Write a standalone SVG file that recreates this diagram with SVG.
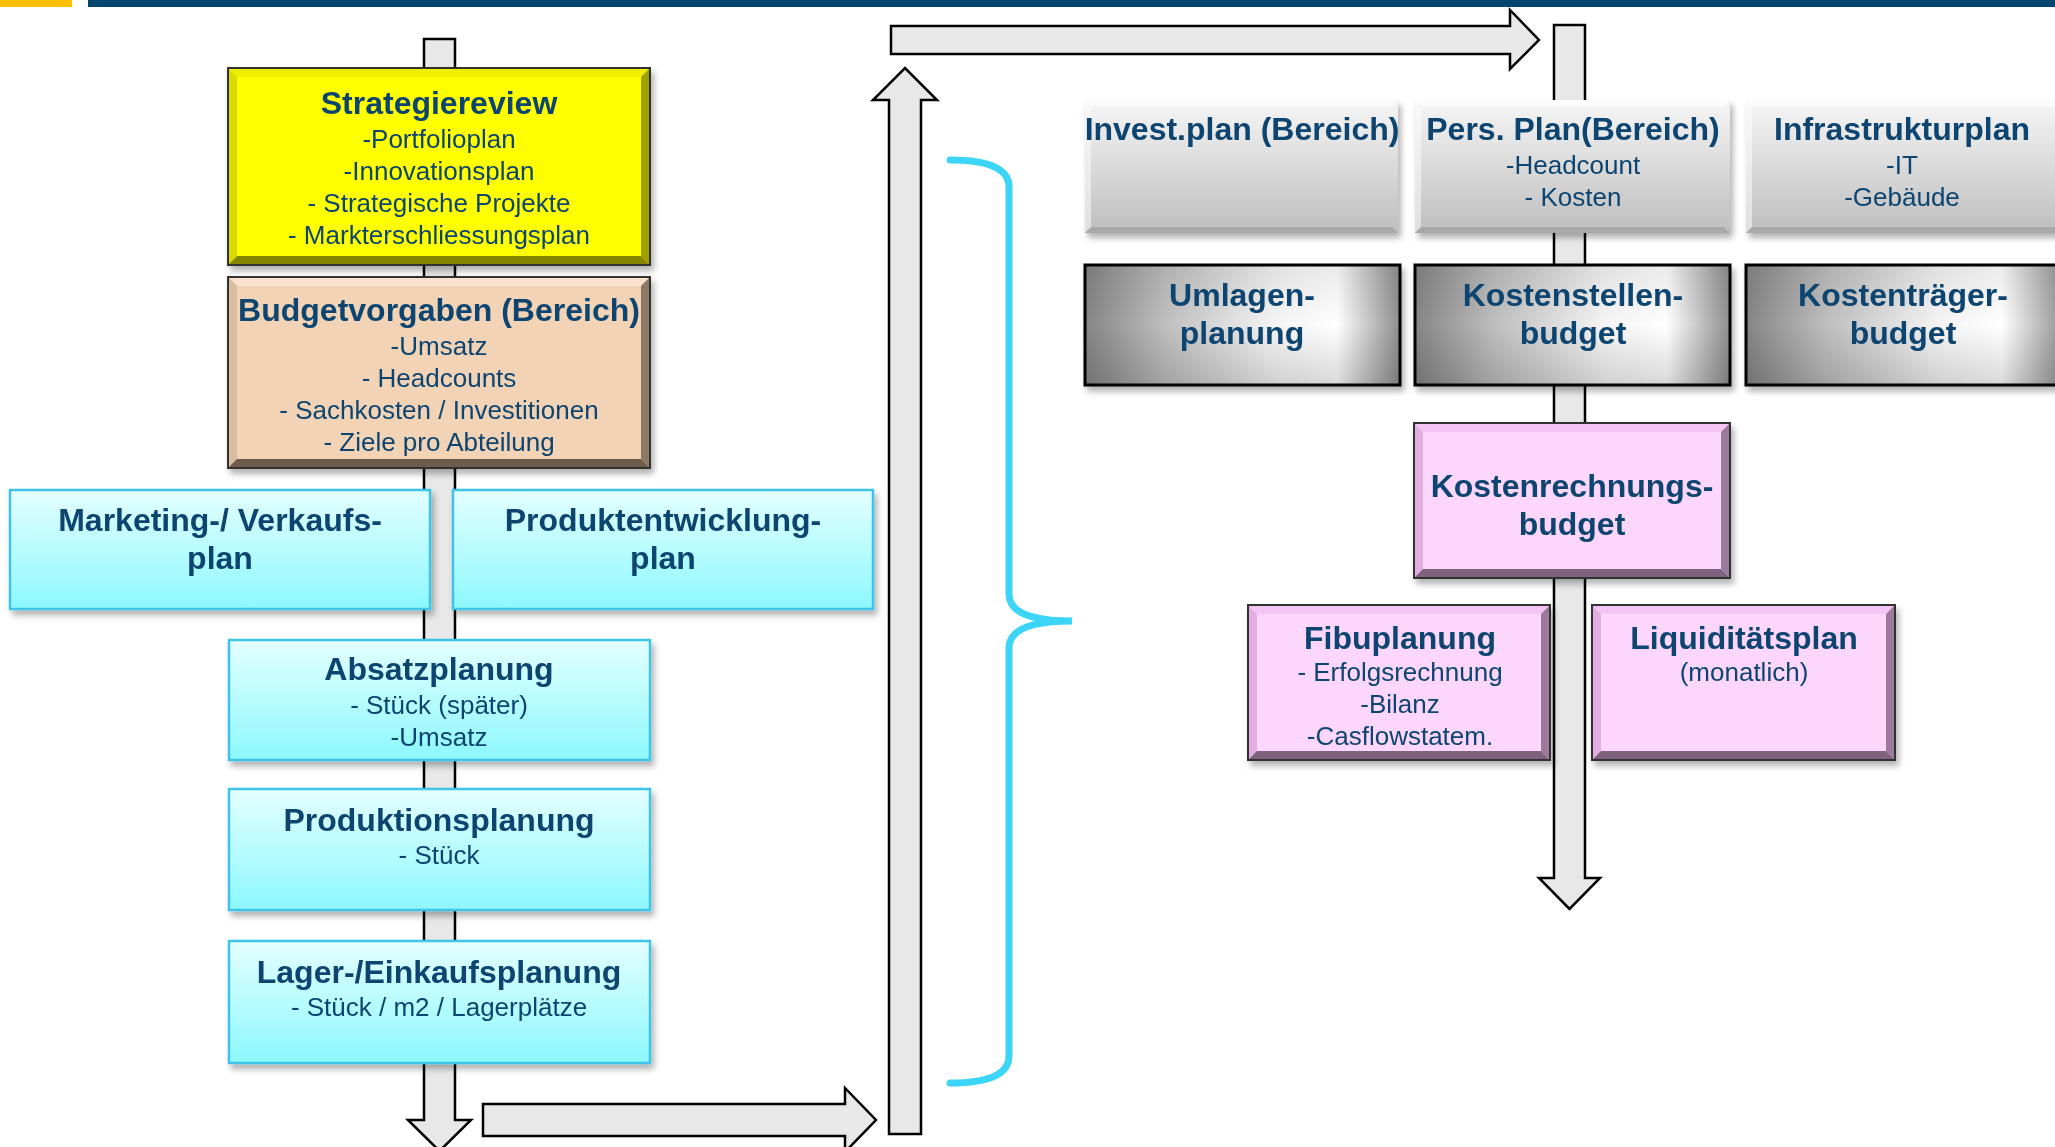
<svg xmlns="http://www.w3.org/2000/svg" width="2055" height="1147" viewBox="0 0 2055 1147">
<style>
.t{font-family:"Liberation Sans",Arial,sans-serif;font-weight:bold;font-size:32px;fill:#0B4470;text-anchor:middle}
.s{font-family:"Liberation Sans",Arial,sans-serif;font-size:26px;fill:#0B4470;text-anchor:middle}
.arr{fill:#E8E8E8;stroke:#000;stroke-width:2.5;stroke-linejoin:miter}
.cy{fill:url(#gCyan);stroke:#3EC4E6;stroke-width:2.5}
.gr{fill:url(#gGrey)}
.met{fill:url(#gMetal);stroke:#000;stroke-width:3}
.edge{stroke:#333;stroke-width:2;fill:none}
</style>
<defs>
<filter id="sh" x="-10%" y="-10%" width="125%" height="130%">
<feDropShadow dx="3" dy="5" stdDeviation="3" flood-color="#000" flood-opacity="0.3"/>
</filter>
<linearGradient id="gCyan" x1="0" y1="0" x2="0" y2="1">
<stop offset="0" stop-color="#E4FFFF"/><stop offset="1" stop-color="#8CF8FE"/>
</linearGradient>
<linearGradient id="gGrey" x1="0" y1="0" x2="0" y2="1">
<stop offset="0" stop-color="#F6F6F6"/><stop offset="1" stop-color="#BEBEBE"/>
</linearGradient>
<linearGradient id="gMetal" x1="0" y1="0" x2="1" y2="0">
<stop offset="0" stop-color="#858585"/><stop offset="0.25" stop-color="#BEBEBE"/><stop offset="0.6" stop-color="#F4F4F4"/><stop offset="0.8" stop-color="#FFFFFF"/><stop offset="1" stop-color="#8E8E8E"/>
</linearGradient>
<linearGradient id="gMetalV" x1="0" y1="0" x2="0" y2="1">
<stop offset="0" stop-color="#000" stop-opacity="0.08"/><stop offset="0.5" stop-color="#000" stop-opacity="0"/><stop offset="1" stop-color="#000" stop-opacity="0.15"/>
</linearGradient>
</defs>

<rect x="0" y="0" width="72" height="7" fill="#FFC000"/>
<rect x="88" y="0" width="1967" height="7" fill="#00466E"/>

<g id="connectors">
<path class="arr" d="M424,39 H455 V1120 H471 L439.5,1151 L408,1120 H424 Z"/>
<path class="arr" d="M483,1104 H845 V1088 L876,1120 L845,1152 V1136 H483 Z"/>
<path class="arr" d="M889,1134 V100 H873 L905,68 L937,100 H921 V1134 Z"/>
<path class="arr" d="M891,26 H1510 V10 L1539,40 L1510,69 V54 H891 Z"/>
<path class="arr" d="M1554,25 H1585 V878 H1600 L1569.5,909 L1539,878 H1554 Z"/>
<path d="M950,160 Q1009,160 1009,187 V594 Q1009,621 1072,621 Q1009,621 1009,648 V1056 Q1009,1083 950,1083" fill="none" stroke="#3DD5F7" stroke-width="7" stroke-linecap="round"/>
</g>

<g id="strategiereview" filter="url(#sh)">
<rect x="228" y="68" width="422" height="197" fill="#FFFF00"/>
<polygon points="228,68 650,68 641,77 237,77" fill="#EEEE00"/>
<polygon points="228,68 237,77 237,256 228,265" fill="#DADA00"/>
<polygon points="650,68 650,265 641,256 641,77" fill="#A0A000"/>
<polygon points="228,265 650,265 641,256 237,256" fill="#858500"/>
<rect class="edge" x="228" y="68" width="422" height="197"/>
<text class="t" x="439" y="114">Strategiereview</text>
<text class="s" x="439" y="148">-Portfolioplan</text>
<text class="s" x="439" y="180">-Innovationsplan</text>
<text class="s" x="439" y="212">- Strategische Projekte</text>
<text class="s" x="439" y="244">- Markterschliessungsplan</text>
</g>

<g id="budgetvorgaben" filter="url(#sh)">
<rect x="228" y="277" width="422" height="191" fill="#F2D3B5"/>
<polygon points="228,277 650,277 641,286 237,286" fill="#F8E2CC"/>
<polygon points="228,277 237,286 237,459 228,468" fill="#D8BCA0"/>
<polygon points="650,277 650,468 641,459 641,286" fill="#8E7866"/>
<polygon points="228,468 650,468 641,459 237,459" fill="#6E5C4E"/>
<rect class="edge" x="228" y="277" width="422" height="191"/>
<text class="t" x="439" y="321">Budgetvorgaben (Bereich)</text>
<text class="s" x="439" y="355">-Umsatz</text>
<text class="s" x="439" y="387">- Headcounts</text>
<text class="s" x="439" y="419">- Sachkosten / Investitionen</text>
<text class="s" x="439" y="451">- Ziele pro Abteilung</text>
</g>

<g id="marketing" filter="url(#sh)">
<rect class="cy" x="10" y="490" width="420" height="119"/>
<text class="t" x="220" y="531">Marketing-/ Verkaufs-</text>
<text class="t" x="220" y="569">plan</text>
</g>

<g id="produktentwicklung" filter="url(#sh)">
<rect class="cy" x="453" y="490" width="420" height="119"/>
<text class="t" x="663" y="531">Produktentwicklung-</text>
<text class="t" x="663" y="569">plan</text>
</g>

<g id="absatzplanung" filter="url(#sh)">
<rect class="cy" x="229" y="640" width="421" height="120"/>
<text class="t" x="439" y="680">Absatzplanung</text>
<text class="s" x="439" y="714">- Stück (später)</text>
<text class="s" x="439" y="746">-Umsatz</text>
</g>

<g id="produktionsplanung" filter="url(#sh)">
<rect class="cy" x="229" y="789" width="421" height="121"/>
<text class="t" x="439" y="831">Produktionsplanung</text>
<text class="s" x="439" y="864">- Stück</text>
</g>

<g id="lagerplanung" filter="url(#sh)">
<rect class="cy" x="229" y="941" width="421" height="122"/>
<text class="t" x="439" y="983">Lager-/Einkaufsplanung</text>
<text class="s" x="439" y="1016">- Stück / m2 / Lagerplätze</text>
</g>

<g id="investplan" filter="url(#sh)">
<rect class="gr" x="1085" y="100" width="313" height="133"/>
<polygon points="1085,100 1398,100 1392,106 1091,106" fill="#FFFFFF" opacity="0.7"/>
<polygon points="1085,100 1091,106 1091,227 1085,233" fill="#FFFFFF" opacity="0.5"/>
<polygon points="1085,233 1398,233 1392,227 1091,227" fill="#999" opacity="0.6"/>
<text class="t" x="1242" y="140">Invest.plan (Bereich)</text>
</g>

<g id="persplan" filter="url(#sh)">
<rect class="gr" x="1415" y="100" width="315" height="133"/>
<polygon points="1415,100 1730,100 1724,106 1421,106" fill="#FFFFFF" opacity="0.7"/>
<polygon points="1415,100 1421,106 1421,227 1415,233" fill="#FFFFFF" opacity="0.5"/>
<polygon points="1415,233 1730,233 1724,227 1421,227" fill="#999" opacity="0.6"/>
<text class="t" x="1573" y="140">Pers. Plan(Bereich)</text>
<text class="s" x="1573" y="174">-Headcount</text>
<text class="s" x="1573" y="206">- Kosten</text>
</g>

<g id="infrastrukturplan" filter="url(#sh)">
<rect class="gr" x="1746" y="100" width="320" height="133"/>
<polygon points="1746,100 2066,100 2060,106 1752,106" fill="#FFFFFF" opacity="0.7"/>
<polygon points="1746,100 1752,106 1752,227 1746,233" fill="#FFFFFF" opacity="0.5"/>
<polygon points="1746,233 2066,233 2060,227 1752,227" fill="#999" opacity="0.6"/>
<text class="t" x="1902" y="140">Infrastrukturplan</text>
<text class="s" x="1902" y="174">-IT</text>
<text class="s" x="1902" y="206">-Gebäude</text>
</g>

<g id="umlagenplanung" filter="url(#sh)">
<rect class="met" x="1085" y="265" width="315" height="120"/>
<rect x="1085" y="265" width="315" height="120" fill="url(#gMetalV)"/>
<text class="t" x="1242" y="306">Umlagen-</text>
<text class="t" x="1242" y="344">planung</text>
</g>

<g id="kostenstellenbudget" filter="url(#sh)">
<rect class="met" x="1415" y="265" width="315" height="120"/>
<rect x="1415" y="265" width="315" height="120" fill="url(#gMetalV)"/>
<text class="t" x="1573" y="306">Kostenstellen-</text>
<text class="t" x="1573" y="344">budget</text>
</g>

<g id="kostentraegerbudget" filter="url(#sh)">
<rect class="met" x="1746" y="265" width="320" height="120"/>
<rect x="1746" y="265" width="320" height="120" fill="url(#gMetalV)"/>
<text class="t" x="1903" y="306">Kostenträger-</text>
<text class="t" x="1903" y="344">budget</text>
</g>

<g id="kostenrechnungsbudget" filter="url(#sh)">
<rect x="1414" y="423" width="316" height="155" fill="#FDD6FD"/>
<polygon points="1414,423 1730,423 1721,432 1423,432" fill="#F4C4F4"/>
<polygon points="1414,423 1423,432 1423,569 1414,578" fill="#E2AEE2"/>
<polygon points="1730,423 1730,578 1721,569 1721,432" fill="#9C7A9C"/>
<polygon points="1414,578 1730,578 1721,569 1423,569" fill="#7E627E"/>
<rect class="edge" x="1414" y="423" width="316" height="155"/>
<text class="t" x="1572" y="497">Kostenrechnungs-</text>
<text class="t" x="1572" y="535">budget</text>
</g>

<g id="fibuplanung" filter="url(#sh)">
<rect x="1248" y="605" width="302" height="155" fill="#FDD6FD"/>
<polygon points="1248,605 1550,605 1541,614 1257,614" fill="#F4C4F4"/>
<polygon points="1248,605 1257,614 1257,751 1248,760" fill="#E2AEE2"/>
<polygon points="1550,605 1550,760 1541,751 1541,614" fill="#9C7A9C"/>
<polygon points="1248,760 1550,760 1541,751 1257,751" fill="#7E627E"/>
<rect class="edge" x="1248" y="605" width="302" height="155"/>
<text class="t" x="1400" y="649">Fibuplanung</text>
<text class="s" x="1400" y="681">- Erfolgsrechnung</text>
<text class="s" x="1400" y="713">-Bilanz</text>
<text class="s" x="1400" y="745">-Casflowstatem.</text>
</g>

<g id="liquiditaetsplan" filter="url(#sh)">
<rect x="1592" y="605" width="303" height="155" fill="#FDD6FD"/>
<polygon points="1592,605 1895,605 1886,614 1601,614" fill="#F4C4F4"/>
<polygon points="1592,605 1601,614 1601,751 1592,760" fill="#E2AEE2"/>
<polygon points="1895,605 1895,760 1886,751 1886,614" fill="#9C7A9C"/>
<polygon points="1592,760 1895,760 1886,751 1601,751" fill="#7E627E"/>
<rect class="edge" x="1592" y="605" width="303" height="155"/>
<text class="t" x="1744" y="649">Liquiditätsplan</text>
<text class="s" x="1744" y="681">(monatlich)</text>
</g>
</svg>
